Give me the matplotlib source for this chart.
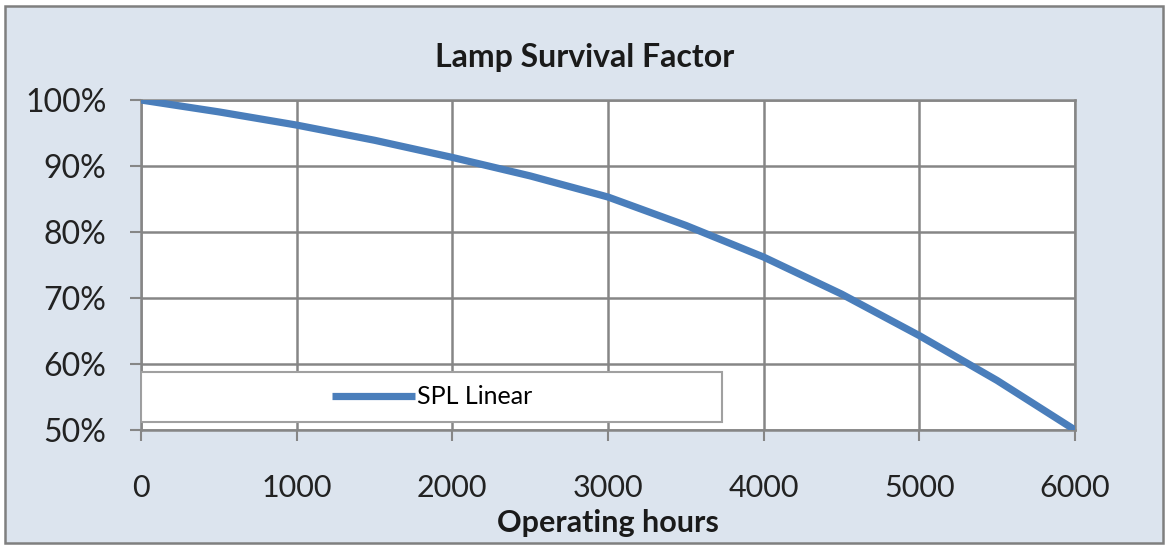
import matplotlib
matplotlib.use("Agg")
import matplotlib.pyplot as plt
from matplotlib.patches import Rectangle
from matplotlib.ticker import FuncFormatter

hours = [0, 500, 1000, 1500, 2000, 2500, 3000, 3500, 4000, 4500, 5000, 5500, 6000]
survival = [100, 98.2, 96.2, 93.9, 91.3, 88.5, 85.3, 81.0, 76.2, 70.6, 64.3, 57.5, 50.0]
x_ticks = [0, 1000, 2000, 3000, 4000, 5000, 6000]
y_ticks = [50, 60, 70, 80, 90, 100]
title = "Lamp Survival Factor"
xlabel = "Operating hours"
series_name = "SPL Linear"

plt.rcParams['font.family'] = ['Lato', 'DejaVu Sans']

W, H = 1169, 546
fig = plt.figure(figsize=(W / 100, H / 100), dpi=100)
fig.patch.set_facecolor('white')

bg = Rectangle((5 / W, 3 / H), (1163 - 5) / W, (540 - 3) / H, transform=fig.transFigure,
               facecolor='#dce4ee', edgecolor='#7f7f7f', linewidth=1.8, zorder=-10)
fig.patches.append(bg)

ax = fig.add_axes([141 / W, (546 - 430) / H, (1075 - 141) / W, (430 - 100) / H])
ax.set_zorder(1)
ax.set_facecolor('white')
ax.plot(hours, survival, color='#4a7ebb', linewidth=5.2, solid_capstyle='butt',
        solid_joinstyle='round', zorder=3, label=series_name)

ax.set_xlim(0, 6000)
ax.set_ylim(50, 100)
ax.set_xticks(x_ticks)
ax.set_yticks(y_ticks)
ax.yaxis.set_major_formatter(FuncFormatter(lambda v, p: f"{int(v)}%"))
ax.grid(True, color='#868686', linewidth=1.8)
ax.set_axisbelow(True)
for s in ax.spines.values():
    s.set_color('#868686')
    s.set_linewidth(1.8)
ax.tick_params(axis='both', colors='#868686', labelcolor='#222222', labelsize=22,
               length=8, width=1.5)
ax.tick_params(axis='y', pad=17, labelsize=23)
ax.tick_params(axis='x', pad=24)
ax.set_xlabel(xlabel, fontsize=22, fontweight='bold', color='#1a1a1a', labelpad=5)

fig.text(585 / W, 1 - 57 / H, title, ha='center', va='center', fontsize=23,
         fontweight='bold', color='#1a1a1a')

# legend box
ax.add_patch(Rectangle((0.0, (430 - 422) / 330), (722 - 141) / 934, (422 - 372) / 330,
                       transform=ax.transAxes, facecolor='white', edgecolor='#a0a0a0',
                       linewidth=1.5, zorder=4))
leg = ax.legend(loc='center', bbox_to_anchor=(0.312, 0.1), frameon=False, fontsize=18,
                handlelength=3.3, handletextpad=0.1)
leg.set_zorder(5)

fig.savefig('out.png', dpi=100)
